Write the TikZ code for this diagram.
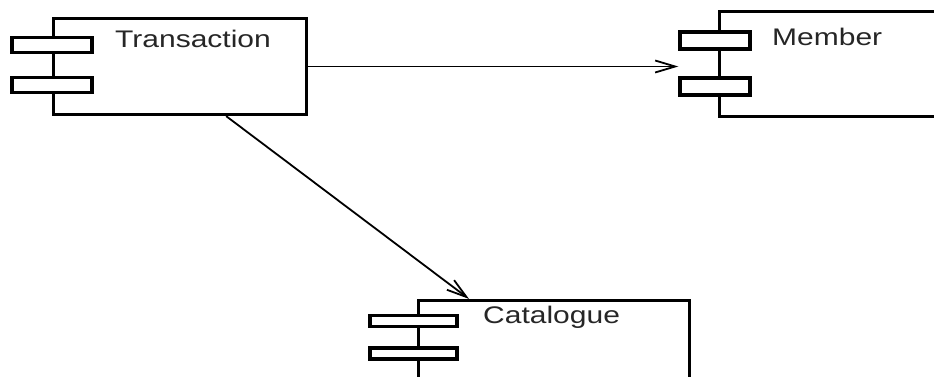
\documentclass[tikz,border=0pt]{standalone}
\usepackage{fontspec}
\setmainfont{Liberation Sans}
\usepackage{graphicx}
\usetikzlibrary{calc,arrows.meta}

\begin{document}
\begin{tikzpicture}[x=1pt,y=-1pt,
    comp/.style={draw,line width=3.2pt,inner sep=0pt},
    port/.style={draw,fill=white,line width=3.2pt,inner sep=0pt},
    compname/.style={anchor=base west,inner sep=0pt,text=black!85,font=\fontsize{24}{28}\selectfont},
    link/.style={line width=1.8pt,-{Straight Barb[length=20pt,width=12pt,line width=1.8pt]}}]

\clip (0,0) rectangle (934,376);

% Transaction
\node [comp,minimum width=253pt,minimum height=96pt] (trans) at (180,66.5) {};
\node [port,minimum width=80pt,minimum height=15pt] (trans-p1) at ($(trans.north west)+(0,28)$) {};
\node [port,minimum width=80pt,minimum height=15pt] (trans-p2) at ($(trans.north west)+(0,68)$) {};
\node [compname] (trans-name) at (115,47) {\scalebox{1.25}[1]{Transaction}};

% Member
\node [comp,minimum width=300pt,minimum height=105pt] (member) at (869.5,64) {};
\node [port,minimum width=70pt,minimum height=17pt] (member-p1) at ($(member.north west)+(-3,30.5)$) {};
\node [port,minimum width=70pt,minimum height=17pt] (member-p2) at ($(member.north west)+(-3,76.5)$) {};
\node [compname] (member-name) at (772,45) {\scalebox{1.25}[1]{Member}};

% Catalogue
\node [comp,minimum width=271pt,minimum height=120pt] (cat) at (554,360.5) {};
\node [port,minimum width=87pt,minimum height=11pt] (cat-p1) at ($(cat.north west)+(-3.5,22)$) {};
\node [port,minimum width=87pt,minimum height=11pt] (cat-p2) at ($(cat.north west)+(-3.5,54.5)$) {};
\node [compname] (cat-name) at (483,323) {\scalebox{1.25}[1]{Catalogue}};

% dependencies
\draw[link] (trans.east) -- (trans.east -| member-p1.west);
\draw[link] ($(trans.south west)!0.68!(trans.south east)$) -- ($(cat.north west)!0.19!(cat.north east)$);

\end{tikzpicture}
\end{document}
